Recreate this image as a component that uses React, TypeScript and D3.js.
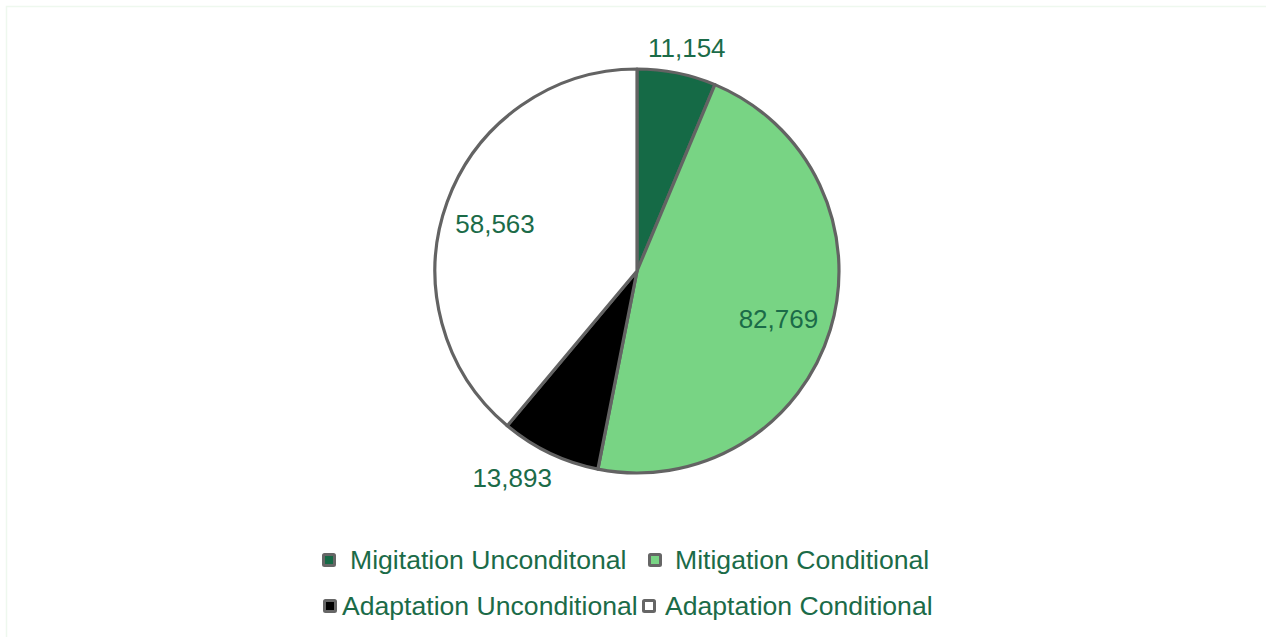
import React from "react";
import * as d3 from "d3";

const categories = [
  "Migitation Unconditonal",
  "Mitigation Conditional",
  "Adaptation Unconditional",
  "Adaptation Conditional",
];
// Data labels as printed on the chart
const values = [11154, 82769, 13893, 58563];
// Slice sizes as drawn in the picture (percent of the circle)
const sliceShares = [6.3, 46.8, 8.0, 38.9];
const colors = ["#156a46", "#78d484", "#000000", "#ffffff"];

const W = 1266;
const H = 637;
const cx = 637;
const cy = 271;
const R = 202;
const labelPlace = [
  { k: 1.13, da: 0.022 },
  { k: 0.74, da: 0.035 },
  { k: 1.196, da: 0.097 },
  { k: 0.74, da: -0.031 },
];
const textColor = "#1b6b48";
const font = "'Liberation Sans', Arial, sans-serif";

export default function App() {
  const pie = d3.pie<number>().sort(null).value((d) => d)(sliceShares);
  const arc = d3.arc<d3.PieArcDatum<number>>().innerRadius(0).outerRadius(R);
  const fmt = d3.format(",");
  const legend = [
    { i: 0, x: 322, y: 560, tx: 350 },
    { i: 1, x: 648, y: 560, tx: 675 },
    { i: 2, x: 323, y: 606, tx: 342 },
    { i: 3, x: 642, y: 606, tx: 665 },
  ];
  return (
    <svg
      width={W}
      height={H}
      style={{ position: "absolute", left: 0, top: 0, background: "#fff" }}
    >
      <rect x={6.5} y={6.5} width={W} height={H} fill="#fff" stroke="#eef8ee" strokeWidth={1.5} />
      <g transform={`translate(${cx},${cy})`}>
        {pie.map((p, i) => (
          <path key={i} d={arc(p) || ""} fill={colors[i]} stroke="#636363" strokeWidth={3.2} strokeLinejoin="round" />
        ))}
        {pie.map((p, i) => {
          const a = (p.startAngle + p.endAngle) / 2 + labelPlace[i].da;
          const r = R * labelPlace[i].k;
          return (
            <text
              key={i}
              x={r * Math.sin(a)}
              y={-r * Math.cos(a)}
              textAnchor="middle"
              dominantBaseline="central"
              fill={textColor}
              fontFamily={font}
              fontSize={26}
            >
              {fmt(values[i])}
            </text>
          );
        })}
      </g>
      {legend.map((l) => (
        <g key={l.i}>
          <rect x={l.x + 1.5} y={l.y - 5.5} width={11} height={11} fill={colors[l.i]} stroke="#666" strokeWidth={3} rx={1} />
          <text x={l.tx} y={l.y} dominantBaseline="central" fill={textColor} fontFamily={font} fontSize={26.6}>
            {categories[l.i]}
          </text>
        </g>
      ))}
    </svg>
  );
}
